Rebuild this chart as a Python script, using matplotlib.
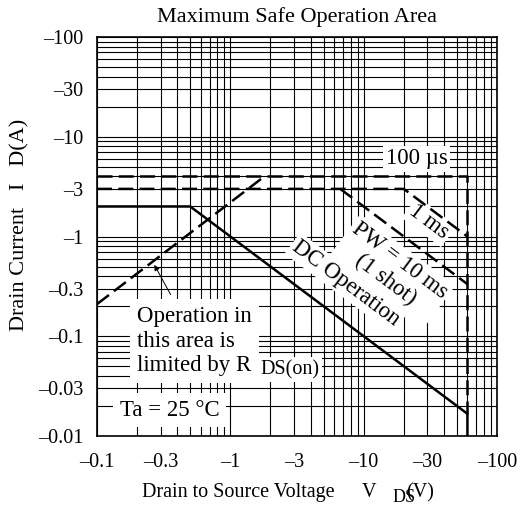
import numpy as np
import matplotlib
matplotlib.use("Agg")
from matplotlib import pyplot as plt

plt.rcParams['font.family'] = ['Liberation Serif', 'DejaVu Serif']

# curves (absolute values, drawn on log axes; labels carry the minus sign)
volts_dc = [0.1, 0.5, 60, 60]
amps_dc = [2, 2, 0.0167, 0.01]
volts_100us = [0.1, 60, 60]
amps_100us = [4, 4, 0.0167]
volts_1ms = [0.1, 20, 60]
amps_1ms = [3, 3, 1]
volts_10ms = [6.67, 60]
amps_10ms = [3, 0.333]
volts_rds = [0.1, 1.8]
amps_rds = [0.21, 4]

x_ticks = [0.1, 0.3, 1, 3, 10, 30, 100]
x_labels = ['\u20130.1', '\u20130.3', '\u20131', '\u20133', '\u201310', '\u201330', '\u2013100']
y_ticks = [0.01, 0.03, 0.1, 0.3, 1, 3, 10, 30, 100]
y_labels = ['\u20130.01', '\u20130.03', '\u20130.1', '\u20130.3', '\u20131', '\u20133', '\u201310', '\u201330', '\u2013100']

W, H = 526, 509
fig = plt.figure(figsize=(W / 100, H / 100), dpi=100)
ax = fig.add_axes([97 / W, 1 - 436 / H, 400 / W, 399 / H])
ax.set_xscale('log')
ax.set_yscale('log')
ax.set_xlim(0.1, 100)
ax.set_ylim(0.01, 100)

ax.set_axisbelow(True)
ax.grid(True, which='both', color='black', lw=0.8)
ax.set_xticks(x_ticks)
ax.set_xticklabels(x_labels)
ax.set_yticks(y_ticks)
ax.set_yticklabels(y_labels)
ax.xaxis.set_minor_formatter(matplotlib.ticker.NullFormatter())
ax.yaxis.set_minor_formatter(matplotlib.ticker.NullFormatter())
ax.tick_params(which='both', length=0, labelsize=14.5)
ax.tick_params(axis='x', pad=12)
ax.tick_params(axis='y', pad=10)
for s in ax.spines.values():
    s.set_linewidth(1.2)

dash = dict(color='black', lw=1.8, dashes=(6, 2.5), zorder=4)
ax.plot(volts_dc, amps_dc, color='black', lw=1.8, zorder=4)
ax.plot(volts_100us, amps_100us, **dash)
ax.plot(volts_1ms, amps_1ms, **dash)
ax.plot(volts_10ms, amps_10ms, **dash)
ax.plot(volts_rds, amps_rds, **dash)

box = dict(facecolor='white', edgecolor='none', pad=2)
rot = -36.8
ax.text(25, 6, '100 \u00b5s', fontsize=16.5, ha='center', va='center', bbox=box, zorder=3)
ax.text(31, 1.4, '1 ms', fontsize=16.5, ha='center', va='center', rotation=rot,
        rotation_mode='anchor', bbox=box, zorder=3)
ax.text(16.5, 0.46, 'PW = 10 ms\n(1 shot)', fontsize=16.5, ha='center', va='center',
        rotation=rot, rotation_mode='anchor', multialignment='center', bbox=box, zorder=3)
ax.text(7.4, 0.34, 'DC Operation', fontsize=16.5, ha='center', va='center', rotation=rot,
        rotation_mode='anchor', bbox=box, zorder=3)
ax.text(0.2, 0.089, 'Operation in\nthis area is\nlimited by R', fontsize=16.5, ha='left',
        va='center', linespacing=1.22, bbox=dict(facecolor='white', edgecolor='none', pad=5), zorder=3)
ax.text(1.67, 0.046, 'DS(on)', fontsize=14.5, ha='left', va='center',
        bbox=dict(facecolor='white', edgecolor='none', pad=2), zorder=3)
ax.text(0.35, 0.0182, 'Ta = 25 \u00b0C', fontsize=16.5, ha='center', va='center',
        bbox=dict(facecolor='white', edgecolor='none', pad=5), zorder=3)
ax.annotate('', xy=(0.263, 0.55), xytext=(0.365, 0.247),
            arrowprops=dict(arrowstyle='-|>', color='black', lw=0.7, mutation_scale=8), zorder=5)

fig.text(297 / W, 1 - 17 / H, 'Maximum Safe Operation Area', fontsize=16, ha='center', va='center')

fig.text(20 / W, 1 - 225 / H, 'Drain Current   I   D(A)', fontsize=16, rotation=90,
         ha='center', va='center')

fig.text(238 / W, 1 - 497 / H, 'Drain to Source Voltage', fontsize=14.5, ha='center', va='baseline')
fig.text(369 / W, 1 - 497 / H, 'V', fontsize=14.5, ha='center', va='baseline')
fig.text(393 / W, 1 - 502 / H, 'DS', fontsize=13, ha='left', va='baseline')
fig.text(406 / W, 1 - 497 / H, '(V)', fontsize=14.5, ha='left', va='baseline')

fig.savefig('out.png', dpi=100)
